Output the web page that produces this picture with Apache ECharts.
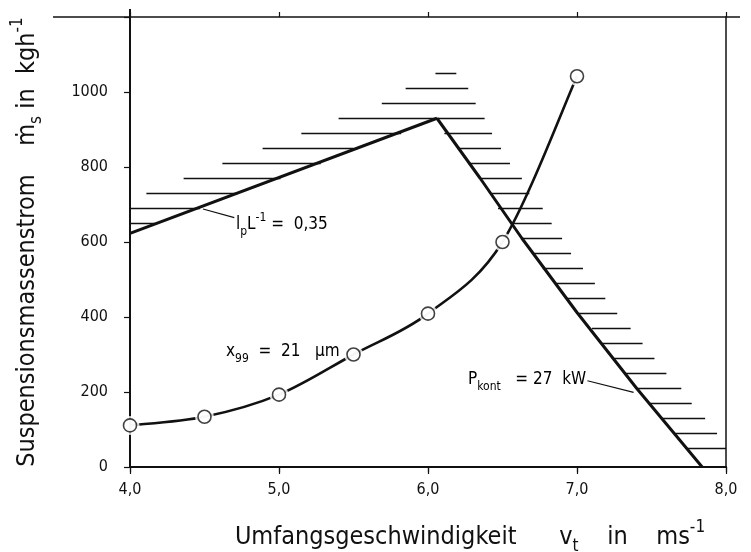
<!DOCTYPE html>
<html>
<head>
<meta charset="utf-8">
<script src="https://cdn.jsdelivr.net/npm/echarts@6/dist/echarts.min.js"></script>
<style>
  html, body { margin: 0; padding: 0; background: #fff; }
  #chart { width: 751px; height: 552px; }
</style>
</head>
<body>
<div id="chart"></div>
<script>
// x99 = 21 µm measurement points
const speedPoints = [4.0, 4.5, 5.0, 5.5, 6.0, 6.5, 7.0];
const massFlow = [111, 134, 193, 300, 409, 600, 1042];

// limit line lp/L = 0.35
const lpLimitX = [4.0, 6.06];
const lpLimitY = [623, 930];

// limit line P_kont = 27 kW
const powerLimitX = [6.06, 6.35, 6.63, 7.0, 7.40, 7.84];
const powerLimitY = [930, 770, 610, 412, 210, 0];

// hatching strokes (level, from, to)
const hatchY = [650, 690, 730, 770, 810, 850, 890, 890, 930, 970, 1010, 1050,
  850, 810, 770, 730, 690, 650, 610, 570, 530, 490, 450, 410, 370, 330, 290, 250, 210, 170, 130, 90, 50];
const hatchFrom = [4.00, 4.00, 4.11, 4.36, 4.62, 4.89, 5.15, 6.11, 5.40, 5.69, 5.85, 6.05,
  6.20, 6.27, 6.35, 6.43, 6.47, 6.56, 6.63, 6.71, 6.77, 6.85, 6.93, 7.01, 7.10, 7.17, 7.25, 7.32, 7.40, 7.48, 7.57, 7.66, 7.74];
const hatchTo = [4.17, 4.47, 4.72, 5.01, 5.28, 5.50, 5.82, 6.43, 6.38, 6.32, 6.27, 6.19,
  6.49, 6.55, 6.63, 6.68, 6.77, 6.83, 6.90, 6.96, 7.04, 7.12, 7.19, 7.27, 7.36, 7.44, 7.52, 7.60, 7.70, 7.77, 7.86, 7.94, 8.00];

// leader lines for the labels
const leaderLp = [[4.49, 688], [4.70, 665]];
const leaderP = [[7.07, 230], [7.38, 199]];

const xTicks = [4, 8, 1];      // min, max, interval
const yTicks = [0, 1200, 200];

const FONT = '"Liberation Sans Narrow", "DejaVu Sans Condensed", "Roboto", sans-serif';
const INK = '#111';

const zip = (a, b) => a.map((v, i) => [v, b[i]]);
const curveData = zip(speedPoints, massFlow);

const chart = echarts.init(document.getElementById('chart'));

const hatchData = hatchY.map((y, i) => ({ coords: [[hatchFrom[i], y], [hatchTo[i], y]] }));

// smooth curve through the measured points (Catmull-Rom in pixel space)
function renderCurve(params, api) {
  if (params.dataIndex !== 0) return null;
  const p = curveData.map(d => api.coord(d));
  const n = p.length;
  let d = 'M' + p[0][0] + ',' + p[0][1];
  for (let i = 0; i < n - 1; i++) {
    const p0 = p[Math.max(i - 1, 0)], p1 = p[i], p2 = p[i + 1], p3 = p[Math.min(i + 2, n - 1)];
    const c1 = [p1[0] + (p2[0] - p0[0]) / 6, p1[1] + (p2[1] - p0[1]) / 6];
    const c2 = [p2[0] - (p3[0] - p1[0]) / 6, p2[1] - (p3[1] - p1[1]) / 6];
    d += 'C' + c1.join(',') + ' ' + c2.join(',') + ' ' + p2.join(',');
  }
  return {
    type: 'path',
    shape: { pathData: d },
    style: { fill: null, stroke: INK, lineWidth: 2.6 }
  };
}

const subRich = {
  n: { fontSize: 17, fontFamily: FONT, color: INK },
  sub: { fontSize: 12, fontFamily: FONT, color: INK, verticalAlign: 'bottom', lineHeight: 26 },
  sup: { fontSize: 12, fontFamily: FONT, color: INK, verticalAlign: 'top', lineHeight: 22 }
};
const bigRich = {
  n: { fontSize: 25, fontFamily: FONT, color: INK },
  sub: { fontSize: 17, fontFamily: FONT, color: INK, verticalAlign: 'bottom', lineHeight: 36 },
  sup: { fontSize: 17, fontFamily: FONT, color: INK, verticalAlign: 'top', lineHeight: 28 }
};

const option = {
  backgroundColor: '#fff',
  animation: false,
  grid: { left: 130, right: 25, top: 17, bottom: 85, outerBoundsMode: 'none', containLabel: false },
  xAxis: [
    {
      type: 'value', min: xTicks[0], max: xTicks[1], interval: xTicks[2],
      position: 'bottom',
      axisLine: { lineStyle: { color: INK, width: 2 } },
      axisTick: { length: 7, lineStyle: { color: INK, width: 1.2 } },
      axisLabel: {
        color: INK, fontSize: 16, fontFamily: FONT, margin: 15,
        formatter: v => v.toFixed(1).replace('.', ',')
      },
      splitLine: { show: false },
      name: '{n|Umfangsgeschwindigkeit      v}{sub|t}{n|    in    ms}{sup|-1}',
      nameLocation: 'middle', nameGap: 52,
      nameTextStyle: { rich: bigRich, padding: [0, 0, 0, 84] }
    },
    {
      type: 'value', min: xTicks[0], max: xTicks[1], interval: xTicks[2],
      position: 'top',
      axisLine: { lineStyle: { color: INK, width: 1.5 } },
      axisTick: { inside: true, length: 5, lineStyle: { color: INK, width: 1.2 } },
      axisLabel: { show: false },
      splitLine: { show: false }
    },
    {
      type: 'value', min: xTicks[0], max: xTicks[1], interval: xTicks[2],
      position: 'top',
      axisLine: { show: false },
      axisTick: { inside: false, length: 5, lineStyle: { color: INK, width: 1.2 } },
      axisLabel: { show: false },
      splitLine: { show: false }
    }
  ],
  yAxis: [
    {
      type: 'value', min: yTicks[0], max: yTicks[1], interval: yTicks[2],
      position: 'left',
      axisLine: { show: true, lineStyle: { color: INK, width: 2 } },
      axisTick: { show: true, length: 6, lineStyle: { color: INK, width: 1.2 } },
      axisLabel: {
        color: INK, fontSize: 16, fontFamily: FONT, margin: 22,
        formatter: v => (v === 1200 ? '' : String(v))
      },
      splitLine: { show: false },
      name: '{n|Suspensionsmassenstrom    ṁ}{sub|s}{n| in  kgh}{sup|-1}',
      nameLocation: 'middle', nameGap: 85, nameRotate: 90,
      nameTextStyle: { rich: bigRich }
    },
    {
      type: 'value', min: yTicks[0], max: yTicks[1], interval: yTicks[2],
      position: 'right',
      axisLine: { show: true, lineStyle: { color: INK, width: 1.5 } },
      axisTick: { show: false },
      axisLabel: { show: false },
      splitLine: { show: false }
    }
  ],
  graphic: [
    { type: 'line', shape: { x1: 53, y1: 17, x2: 740, y2: 17 }, style: { stroke: INK, lineWidth: 1.5 } },
    { type: 'line', shape: { x1: 130, y1: 9, x2: 130, y2: 17 }, style: { stroke: INK, lineWidth: 2 } },
    {
      type: 'text', left: 236, top: 212,
      style: { text: '{n|l}{sub|p}{n|L}{sup|-1}{n| =  0,35}', rich: subRich }
    },
    {
      type: 'text', left: 226, top: 343,
      style: { text: '{n|x}{sub|99}{n|  =  21   µm}', rich: subRich }
    },
    {
      type: 'text', left: 468, top: 371,
      style: { text: '{n|P}{sub|kont}{n|   = 27  kW}', rich: subRich }
    }
  ],
  series: [
    {
      type: 'lines', coordinateSystem: 'cartesian2d', silent: true,
      lineStyle: { color: INK, width: 1.4, opacity: 1 },
      data: hatchData
    },
    {
      type: 'lines', coordinateSystem: 'cartesian2d', silent: true,
      lineStyle: { color: INK, width: 1.2, opacity: 1 },
      data: [{ coords: leaderLp }, { coords: leaderP }]
    },
    {
      type: 'line', data: zip(lpLimitX, lpLimitY), showSymbol: false,
      lineStyle: { color: INK, width: 3 }, z: 3
    },
    {
      type: 'line', data: zip(powerLimitX, powerLimitY), showSymbol: false,
      lineStyle: { color: INK, width: 3 }, z: 3
    },
    {
      type: 'custom', renderItem: renderCurve, data: curveData, z: 4, silent: true
    },
    {
      // white halo leaves a small gap between curve and circles
      type: 'scatter', data: curveData, symbol: 'circle', symbolSize: 19,
      itemStyle: { color: '#fff' }, z: 5, silent: true
    },
    {
      type: 'scatter', data: curveData, symbol: 'circle', symbolSize: 13,
      itemStyle: { color: '#fff', borderColor: INK, borderWidth: 1.6 }, z: 6
    }
  ]
};

chart.setOption(option);
</script>
</body>
</html>
